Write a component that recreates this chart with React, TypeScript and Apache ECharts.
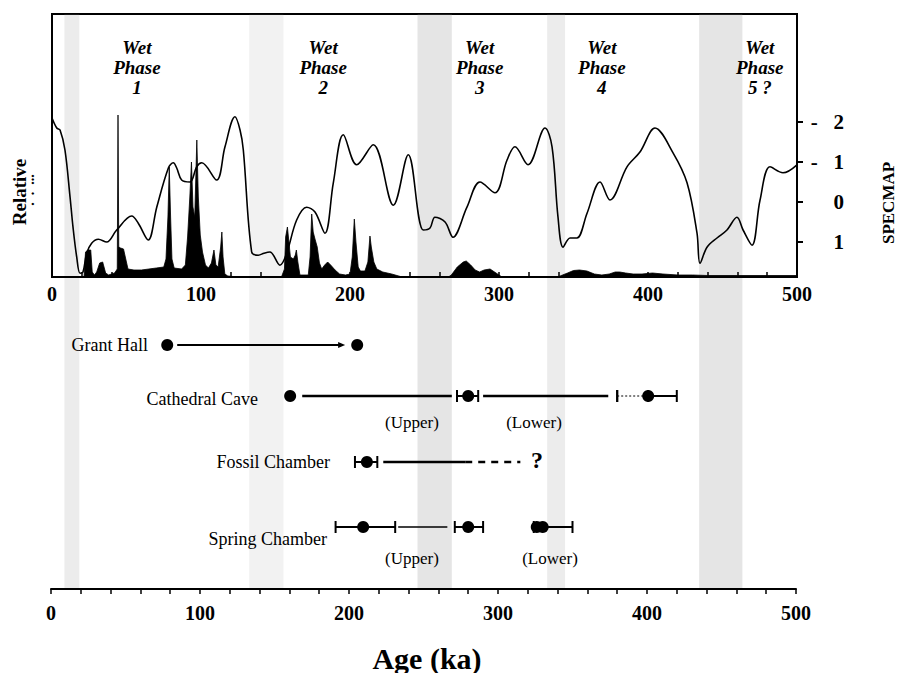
import React, { useEffect, useRef } from 'react';
import * as echarts from 'echarts';

// ---- SPECMAP d18O curve (age ka, standardized value; axis inverted) ----
const specmapAge = [0, 3.2, 5.4, 8.7, 12.1, 14.1, 16.6, 18.8, 20.8, 23.3, 26.6, 31.1, 36.7, 43.4, 53.5, 57.9, 64.6, 70.3, 78.1, 81.4, 83.7, 87.0, 92.6, 97.1, 100.5, 110.5, 116.1, 122.8, 126.2, 128.4, 134.0, 138.5, 142.3, 146.3, 153.0, 157.5, 164.2, 170.9, 176.5, 183.2, 188.8, 195.5, 204.5, 215.6, 229.1, 239.1, 249.2, 253.7, 257.0, 263.8, 269.1, 278.5, 287.2, 297.3, 305.4, 310.7, 319.5, 330.9, 335.6, 339.6, 343.0, 347.7, 352.3, 359.1, 367.8, 374.5, 385.9, 394.6, 404.7, 416.8, 426.2, 432.9, 434.9, 439.6, 446.3, 453.0, 459.7, 463.8, 469.8, 475.2, 481.9, 490.6, 500];
const specmapValue = [-2.1, -1.85, -1.8, -1.3, -0.13, 0.63, 1.38, 1.78, 1.75, 1.28, 1.03, 0.93, 1.0, 0.7, 0.35, 0.53, 0.95, 0.13, -0.85, -0.98, -0.85, -0.55, -0.5, -0.88, -0.98, -0.55, -1.38, -2.13, -1.8, -1.3, 1.25, 1.33, 1.28, 1.25, 1.58, 1.28, 0.45, 0.13, 0.25, 0.78, -0.48, -1.68, -0.93, -1.43, 0.08, -1.18, 0.7, 0.65, 0.38, 0.5, 0.88, 0.13, -0.5, -0.23, -1.05, -1.38, -0.93, -1.85, -1.38, 0.38, 1.13, 0.9, 0.9, 0.28, -0.5, -0.05, -0.88, -1.25, -1.85, -1.23, -0.48, 0.78, 1.53, 1.13, 0.9, 0.7, 0.38, 0.7, 1.08, -0.05, -0.88, -0.73, -0.93];

// ---- Relative abundance (black filled record) ----
const abundanceAge = [0, 21.5, 22.5, 24, 26, 27, 28.5, 30, 32, 34, 36, 38, 42, 43.8, 44.3, 44.8, 46, 48, 49.5, 51, 55, 60, 65, 70, 75, 76.5, 77.8, 78.7, 79.6, 80.5, 82, 87, 89.5, 91, 92.5, 93.6, 94.6, 95.8, 97.2, 98.2, 99.5, 101, 103, 105, 107, 108.7, 110, 111.5, 113.2, 114, 114.8, 116, 118, 125,
  154, 156, 156.8, 158, 159, 160, 162, 163.3, 164, 165, 166.4, 172, 173.2, 174.3, 175.3, 176.5, 178, 179.5, 181, 183, 185, 187, 190, 193, 197, 200, 201.5, 202.9, 204, 205.5, 207, 210, 212, 213.4, 214.3, 216, 218, 222, 228, 235,
  266, 268, 272, 276, 278, 281, 284, 287, 290, 294, 298, 302,
  338, 341, 346, 350, 354, 359, 364, 369, 374, 378, 381, 385, 390, 396, 403, 410, 420, 430, 440, 460, 480, 500];
const abundanceValue = [0, 0, 25, 27, 27, 5, 2, 5, 14, 15, 4, 2, 4, 8, 162, 30, 29, 28, 18, 8, 7, 7, 8, 9, 10, 18, 60, 110, 60, 18, 9, 8, 12, 40, 80, 115, 70, 60, 137, 80, 42, 25, 12, 9, 14, 27, 12, 10, 30, 45, 20, 3, 1, 0,
  0, 8, 40, 50, 35, 20, 18, 22, 27, 15, 2, 2, 20, 63, 45, 38, 30, 14, 8, 12, 15, 12, 7, 3, 2, 3, 20, 58, 35, 10, 6, 6, 15, 41, 30, 15, 8, 5, 3, 0,
  0, 2, 10, 15, 16, 12, 7, 5, 7, 8, 4, 0,
  0, 1, 4, 6.5, 7, 6, 3, 2, 3, 5, 5, 4, 3, 3, 4, 3, 2, 2, 1.5, 1.5, 1.5, 1.5];

// ---- Glacial (stippled) bands, ka ----
const bandStart = [9, 133, 246, 333, 435];
const bandEnd = [19, 156, 269, 345, 464];

// ---- Wet phase labels ----
const wetPhaseLabels = ['Wet\nPhase\n1', 'Wet\nPhase\n2', 'Wet\nPhase\n3', 'Wet\nPhase\n4', 'Wet\nPhase\n5 ?'];
const wetPhaseAge = [57, 182, 287, 369, 475];

// ---- Axis ticks ----
const specmapTicks = [-2, -1, 0, 1];
const specmapTickLabels = ['-   2', '-   1', '0', '1'];

// ---- Cave sites & dates ----
const sites = ['Grant Hall', 'Cathedral Cave', 'Fossil Chamber', 'Spring Chamber'];
const dateSite = [0, 0, 1, 1, 1, 2, 3, 3, 3, 3];
const dateAge = [78, 205.5, 160.5, 280, 400.8, 212, 209.5, 280, 326, 330];
const errSite = [1, 1, 1, 2, 3, 3, 3];
const errLow = [272.5, 380, 400.8, 204, 191, 271, 324];
const errHigh = [286.7, 380, 420, 219, 231, 290, 350];
const linkSite = [0, 1, 1, 2, 3];
const linkFrom = [84.7, 168.6, 290, 223, 233];
const linkTo = [195.4, 269, 374, 278, 266];
const dashedSite = [2, 1];
const dashedFrom = [278, 380];
const dashedTo = [315, 400.8];

// layout constants
const ROW_Y = [25, 76, 142, 207];
const LINK_WIDTH = [2, 2.5, 2.5, 2.5, 1.5];
const DASHED_WIDTH = [2.5, 1];
const BAND_OPACITY = [0.16, 0.11, 0.22, 0.16, 0.22];
const SERIF = '"Liberation Serif", "Times New Roman", serif';

export default function App() {
  const ref = useRef<HTMLDivElement>(null);
  useEffect(() => {
    if (!ref.current) return;
    const chart = echarts.init(ref.current, undefined, { renderer: 'svg' });
    const specmapData = specmapAge.map((a, i) => [a, specmapValue[i]]);
    const abundanceData = abundanceAge.map((a, i) => [a, abundanceValue[i]]);
    const dotData = dateAge.map((a, i) => [a, ROW_Y[dateSite[i]]]);
    const errData = errLow.map((l, i) => [l, errHigh[i], ROW_Y[errSite[i]]]);
    const linkData = linkFrom.map((f, i) => [f, linkTo[i], ROW_Y[linkSite[i]], i]);
    const dashedData = dashedFrom.map((f, i) => [f, dashedTo[i], ROW_Y[dashedSite[i]], i]);
    const axisFont = { fontFamily: SERIF, fontWeight: 'bold' as const, color: '#000' };

    chart.setOption({
      animation: false,
      backgroundColor: '#fff',
      grid: [
        { left: 52, top: 14, width: 745, height: 263, show: true, borderColor: '#000', borderWidth: 2, backgroundColor: 'transparent' },
        { left: 51, top: 320, width: 745, height: 269 },
      ],
      xAxis: [
        {
          gridIndex: 0, type: 'value', min: 0, max: 500, interval: 100,
          axisLine: { onZero: false, lineStyle: { color: '#000', width: 2 } },
          axisTick: { inside: true, length: 5, lineStyle: { color: '#000', width: 1.5 } },
          minorTick: { show: true, splitNumber: 5, length: 5, lineStyle: { color: '#000', width: 1.5 } },
          splitLine: { show: false },
          axisLabel: { ...axisFont, fontSize: 20, margin: 7 },
        },
        {
          gridIndex: 1, type: 'value', min: 0, max: 500, interval: 100,
          axisLine: { onZero: false, lineStyle: { color: '#000', width: 2 } },
          axisTick: { inside: false, length: 5, lineStyle: { color: '#000', width: 1.5 } },
          minorTick: { show: true, splitNumber: 5, length: 5, lineStyle: { color: '#000', width: 1.5 } },
          splitLine: { show: false },
          axisLabel: { ...axisFont, fontSize: 20, margin: 14 },
        },
      ],
      yAxis: [
        {
          gridIndex: 0, type: 'value', position: 'right', inverse: true, min: -4.7, max: 1.875,
          axisLine: { show: true, onZero: false, lineStyle: { color: '#000', width: 2 } },
          axisTick: { show: true, customValues: specmapTicks, length: 6, lineStyle: { color: '#000', width: 2 } },
          axisLabel: {
            ...axisFont, fontSize: 21, customValues: specmapTicks, align: 'right', margin: 47,
            formatter: (v: number) => specmapTickLabels[specmapTicks.indexOf(v)] ?? '',
          },
          splitLine: { show: false },
        },
        { gridIndex: 0, type: 'value', min: 0, max: 263, show: false, axisLine: { onZero: false } },
        { gridIndex: 1, type: 'value', min: 0, max: 269, inverse: true, show: false, axisLine: { onZero: false } },
      ],
      series: [
        {
          type: 'line', name: 'Relative abundance', xAxisIndex: 0, yAxisIndex: 1, data: abundanceData,
          showSymbol: false, smooth: false, lineStyle: { color: '#000', width: 0.8 },
          areaStyle: { color: '#000', opacity: 1 }, z: 3,
        },
        {
          type: 'line', name: 'SPECMAP', xAxisIndex: 0, yAxisIndex: 0, data: specmapData,
          showSymbol: false, smooth: 0.35, lineStyle: { color: '#000', width: 1.6 }, z: 4,
        },
        {
          type: 'custom', name: 'links', xAxisIndex: 1, yAxisIndex: 2, data: linkData,
          encode: { x: [0, 1], y: 2 },
          renderItem: (params: any, api: any) => {
            const a = api.coord([api.value(0), api.value(2)]);
            const b = api.coord([api.value(1), api.value(2)]);
            const idx = api.value(3);
            const w = LINK_WIDTH[idx];
            const children: any[] = [
              { type: 'line', shape: { x1: a[0], y1: a[1], x2: b[0], y2: b[1] }, style: { stroke: '#000', lineWidth: w } },
            ];
            if (idx === 0) {
              children.push({ type: 'polygon', shape: { points: [[b[0] + 3, b[1]], [b[0] - 4, b[1] - 3], [b[0] - 4, b[1] + 3]] }, style: { fill: '#000' } });
            }
            return { type: 'group', children };
          },
        },
        {
          type: 'custom', name: 'dashed', xAxisIndex: 1, yAxisIndex: 2, data: dashedData,
          encode: { x: [0, 1], y: 2 },
          renderItem: (params: any, api: any) => {
            const a = api.coord([api.value(0), api.value(2)]);
            const b = api.coord([api.value(1), api.value(2)]);
            const w = DASHED_WIDTH[api.value(3)];
            return { type: 'line', shape: { x1: a[0], y1: a[1], x2: b[0], y2: b[1] }, style: { stroke: '#000', lineWidth: w, lineDash: w > 2 ? [7, 6] : [2, 2] } };
          },
        },
        {
          type: 'custom', name: 'errors', xAxisIndex: 1, yAxisIndex: 2, data: errData,
          encode: { x: [0, 1], y: 2 },
          renderItem: (params: any, api: any) => {
            const a = api.coord([api.value(0), api.value(2)]);
            const b = api.coord([api.value(1), api.value(2)]);
            const st = { stroke: '#000', lineWidth: 2 };
            return {
              type: 'group', children: [
                { type: 'line', shape: { x1: a[0], y1: a[1], x2: b[0], y2: b[1] }, style: st },
                { type: 'line', shape: { x1: a[0], y1: a[1] - 6, x2: a[0], y2: a[1] + 6 }, style: st },
                { type: 'line', shape: { x1: b[0], y1: b[1] - 6, x2: b[0], y2: b[1] + 6 }, style: st },
              ],
            };
          },
        },
        {
          type: 'scatter', name: 'dates', xAxisIndex: 1, yAxisIndex: 2, data: dotData,
          symbol: 'circle', symbolSize: 12, itemStyle: { color: '#000', opacity: 1 }, z: 5,
        },
      ],
    });

    const px = (age: number) => chart.convertToPixel({ xAxisIndex: 1 }, age) as number;
    const graphics: any[] = [];
    bandStart.forEach((s, i) => {
      const x1 = px(s);
      const x2 = px(bandEnd[i]);
      graphics.push({ type: 'rect', z: 0, silent: true, shape: { x: x1, y: 14, width: x2 - x1, height: 575 }, style: { fill: '#888', opacity: BAND_OPACITY[i] } });
    });
    wetPhaseLabels.forEach((t, i) => {
      graphics.push({ type: 'text', z: 10, x: chart.convertToPixel({ xAxisIndex: 0 }, wetPhaseAge[i]) as number, y: 37, style: { text: t, font: `italic bold 19px ${SERIF}`, fill: '#000', textAlign: 'center', textVerticalAlign: 'top', lineHeight: 20 } });
    });
    const siteLabelRight = [148, 258, 330, 327];
    const siteLabelY = [345, 399, 462, 539];
    sites.forEach((s, i) => {
      graphics.push({ type: 'text', z: 10, x: siteLabelRight[i], y: siteLabelY[i], style: { text: s, font: `18px ${SERIF}`, fill: '#000', textAlign: 'right', textVerticalAlign: 'middle' } });
    });
    const notes = [
      { t: '(Upper)', x: 412, y: 422 }, { t: '(Lower)', x: 534, y: 422 },
      { t: '(Upper)', x: 412, y: 558 }, { t: '(Lower)', x: 550, y: 558 },
    ];
    notes.forEach((n) => graphics.push({ type: 'text', z: 10, x: n.x, y: n.y, style: { text: n.t, font: `17px ${SERIF}`, fill: '#000', textAlign: 'center', textVerticalAlign: 'middle' } }));
    graphics.push({ type: 'text', z: 10, x: 537, y: 460, style: { text: '?', font: `bold 24px ${SERIF}`, fill: '#000', textAlign: 'center', textVerticalAlign: 'middle' } });
    graphics.push({ type: 'text', z: 10, x: 427, y: 658, style: { text: 'Age (ka)', font: `bold 30px ${SERIF}`, fill: '#000', textAlign: 'center', textVerticalAlign: 'middle' } });
    graphics.push({ type: 'text', z: 10, x: 19, y: 192, rotation: Math.PI / 2, style: { text: 'Relative', font: `bold 19px ${SERIF}`, fill: '#000', textAlign: 'center', textVerticalAlign: 'middle' } });
    graphics.push({ type: 'text', z: 10, x: 36, y: 190, rotation: Math.PI / 2, style: { text: '.  .  ...', font: `bold 14px ${SERIF}`, fill: '#000', textAlign: 'center', textVerticalAlign: 'bottom' } });
    graphics.push({ type: 'text', z: 10, x: 888, y: 203, rotation: Math.PI / 2, style: { text: 'SPECMAP', font: `bold 17px ${SERIF}`, fill: '#000', textAlign: 'center', textVerticalAlign: 'middle' } });
    chart.setOption({ graphic: graphics });

    return () => chart.dispose();
  }, []);
  return <div ref={ref} style={{ position: 'absolute', left: 0, top: 0, width: 897, height: 673 }} />;
}
